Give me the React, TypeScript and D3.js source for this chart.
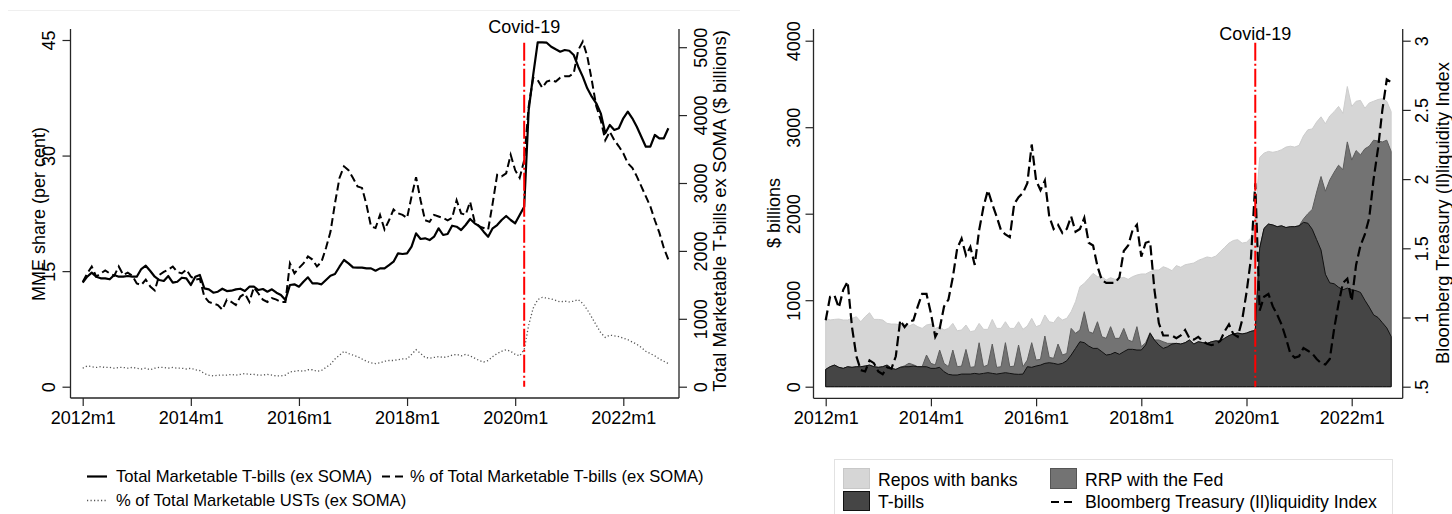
import React, { useEffect, useRef } from 'react';
import * as d3 from 'd3';

// month index: 0 = 2012m1
const xTickMonths = [0, 24, 48, 72, 96, 120];
const xTickLabels = ['2012m1', '2014m1', '2016m1', '2018m1', '2020m1', '2022m1'];
const covidMonth = 98; // 2020m3

// ---- left panel: 2012m1 - 2022m11 ----
// Total Marketable T-bills (ex SOMA), $ billions (right axis)
const tbillsTotal = [
  1532, 1620, 1679, 1620, 1596, 1596, 1582, 1645, 1620, 1620, 1630, 1620,
  1620, 1733, 1782, 1704, 1620, 1571, 1557, 1630, 1532, 1546, 1605, 1596,
  1498, 1620, 1645, 1449, 1434, 1384, 1399, 1443, 1409, 1414, 1434, 1443,
  1409, 1473, 1473, 1424, 1439, 1399, 1434, 1384, 1350, 1277, 1498, 1508,
  1473, 1546, 1611, 1523, 1523, 1508, 1571, 1635, 1660, 1767, 1866, 1817,
  1758, 1753, 1753, 1743, 1743, 1708, 1743, 1743, 1792, 1841, 1964, 1954,
  1964, 2062, 2259, 2175, 2185, 2160, 2209, 2333, 2234, 2249, 2371, 2356,
  2308, 2381, 2470, 2406, 2367, 2283, 2209, 2333, 2381, 2455, 2514, 2455,
  2406, 2529, 2651, 4075, 4591, 5072, 5072, 5066, 5007, 4969, 4934, 4959,
  4948, 4885, 4713, 4566, 4395, 4271, 4174, 4026, 3732, 3854, 3781, 3806,
  3953, 4050, 3953, 3829, 3682, 3535, 3535, 3707, 3658, 3658, 3806,
];
// % of Total Marketable T-bills (ex SOMA) (left axis)
const shareBills = [
  13.6, 14.7, 15.6, 14.3, 14.7, 15.1, 14.7, 14.4, 15.6, 14.5, 14.8, 14.4,
  13.4, 13.2, 13.9, 13.0, 12.5, 14.5, 14.9, 15.2, 15.6, 14.9, 14.7, 15.2,
  14.3, 13.9, 14.0, 11.7, 11.0, 10.8, 10.6, 10.0, 11.3, 11.0, 10.6, 11.7,
  12.1, 11.0, 12.9, 12.1, 11.3, 11.0, 11.5, 11.3, 11.0, 11.0, 16.0, 14.7,
  15.4, 16.0, 16.9, 16.5, 15.6, 16.2, 18.0, 20.1, 23.8, 27.1, 28.6, 28.1,
  27.1, 26.0, 25.8, 23.6, 20.8, 20.6, 22.3, 20.4, 21.6, 23.0, 22.5, 22.3,
  21.9, 24.7, 27.2, 24.2, 21.6, 21.4, 22.3, 22.1, 21.9, 21.6, 21.9, 24.2,
  22.5, 22.3, 24.0, 21.4, 20.8, 20.6, 20.4, 23.8, 27.5, 27.3, 27.7, 30.1,
  28.1, 27.1, 29.4, 36.4, 40.1, 39.8, 38.8, 39.6, 39.8, 39.6, 40.1, 40.3,
  40.3, 40.7, 43.7, 44.8, 42.9, 39.8, 36.4, 34.6, 32.0, 33.1, 32.0, 31.2,
  30.3, 29.0, 28.4, 27.3, 26.0, 24.7, 23.4, 21.6, 20.0, 18.0, 16.5,
];
// % of Total Marketable USTs (ex SOMA) (left axis)
const shareUsts = [
  2.4, 2.7, 2.6, 2.5, 2.6, 2.5, 2.5, 2.4, 2.5, 2.5, 2.4, 2.5,
  2.4, 2.3, 2.4, 2.2, 2.4, 2.5, 2.5, 2.4, 2.5, 2.4, 2.4, 2.3,
  2.4, 2.2, 2.1, 1.7, 1.5, 1.4, 1.5, 1.5, 1.5, 1.6, 1.5, 1.6,
  1.7, 1.6, 1.6, 1.5, 1.5, 1.6, 1.5, 1.4, 1.4, 1.5, 1.9, 2.0,
  2.1, 2.0, 2.2, 2.2, 2.0, 2.1, 2.5, 2.9, 3.6, 4.1, 4.6, 4.3,
  4.1, 3.9, 3.6, 3.3, 3.1, 3.0, 3.1, 3.3, 3.4, 3.4, 3.5, 3.6,
  3.6, 4.2, 4.8, 4.3, 3.8, 3.7, 3.8, 3.9, 3.8, 3.9, 4.1, 4.2,
  4.0, 4.2, 4.0, 3.7, 3.4, 3.2, 3.4, 3.9, 4.3, 4.6, 4.8, 4.6,
  4.2, 4.0, 4.8, 8.0, 10.2, 11.3, 11.6, 11.5, 11.4, 11.2, 11.0, 11.1,
  11.0, 11.1, 11.3, 10.8, 10.0, 9.0, 8.0, 7.0, 6.4, 6.7, 6.6, 6.5,
  6.3, 6.1, 5.8, 5.5, 5.1, 4.6, 4.3, 4.0, 3.6, 3.3, 3.0,
];
const pctTicks = [0, 15, 30, 45];
const bnTicks = [0, 1000, 2000, 3000, 4000, 5000];

// ---- right panel: 2012m1 - 2022m10, $ billions ----
const tbillsHeld = [
  200, 231, 250, 224, 212, 231, 224, 231, 231, 239, 250, 231,
  224, 231, 250, 212, 200, 224, 231, 231, 239, 231, 231, 231,
  212, 212, 224, 173, 143, 135, 135, 146, 146, 146, 154, 146,
  154, 162, 154, 146, 154, 162, 154, 146, 143, 146, 231, 224,
  239, 250, 270, 277, 270, 258, 270, 300, 366, 443, 520, 509,
  470, 443, 443, 405, 366, 374, 397, 374, 405, 432, 432, 424,
  424, 482, 617, 540, 482, 443, 462, 493, 501, 493, 509, 540,
  493, 520, 510, 500, 520, 530, 525, 560, 590, 610, 620, 610,
  620, 640, 650, 1600, 1830, 1880, 1870, 1850, 1860, 1840, 1850, 1850,
  1860, 1900, 1890, 1820, 1700, 1580, 1300, 1200, 1190, 1150, 1120, 1140,
  1120, 1110, 1090, 1000, 920, 830, 800, 740, 680, 580,
];
const rrpFed = [
  0, 0, 0, 0, 0, 0, 0, 0, 0, 0, 0, 0,
  0, 0, 0, 0, 0, 0, 10, 40, 15, 0, 0, 135,
  58, 39, 200, 96, 89, 289, 96, 92, 285, 77, 77, 362,
  77, 89, 339, 77, 77, 347, 77, 92, 339, 85, 77, 285,
  69, 66, 316, 62, 58, 235, 96, 85, 308, 174, 135, 358,
  166, 174, 308, 173, 193, 320, 162, 185, 269, 108, 88, 270,
  38, 27, 8, 0, 58, 77, 39, 8, 0, 0, 0, 0,
  0, 0, 0, 0, 0, 0, 0, 0, 0, 0, 0, 0,
  0, 0, 0, 0, 0, 0, 0, 0, 0, 0, 0, 0,
  0, 40, 110, 230, 550, 850, 960, 1190, 1290, 1410, 1390, 1690,
  1500, 1620, 1590, 1750, 1860, 2020, 2040, 2090, 2170, 2140,
];
const reposBanks = [
  590, 540, 528, 558, 559, 540, 566, 578, 520, 570, 605, 547,
  554, 540, 482, 512, 524, 489, 483, 430, 470, 463, 443, 347,
  454, 423, 270, 386, 442, 308, 416, 417, 282, 413, 416, 224,
  432, 412, 285, 451, 443, 242, 443, 436, 269, 432, 393, 281,
  386, 397, 243, 412, 412, 316, 405, 405, 193, 366, 501, 328,
  616, 693, 521, 694, 674, 566, 682, 693, 590, 701, 752, 597,
  841, 794, 704, 809, 809, 867, 867, 840, 899, 887, 901, 880,
  937, 940, 970, 1000, 970, 980, 1035, 1050, 1070, 1080, 1080, 1050,
  1050, 1080, 1310, 1050, 870, 840, 840, 870, 880, 930, 930, 920,
  930, 960, 970, 930, 810, 690, 780, 740, 700, 680, 650, 640,
  620, 570, 630, 470, 500, 450, 480, 500, 450, 460,
];
// Bloomberg Treasury (Il)liquidity Index (right axis)
const bbgIndex = [
  0.98, 1.15, 1.16, 1.07, 1.2, 1.26, 0.93, 0.72, 0.62, 0.61, 0.69, 0.67,
  0.61, 0.59, 0.64, 0.63, 0.72, 0.98, 0.93, 0.97, 0.98, 1.08, 1.17, 1.17,
  1.03, 0.86, 0.92, 1.08, 1.13, 1.29, 1.5, 1.57, 1.45, 1.51, 1.38, 1.63,
  1.8, 1.92, 1.82, 1.73, 1.63, 1.6, 1.58, 1.82, 1.87, 1.9, 1.97, 2.25,
  1.99, 1.92, 1.99, 1.73, 1.64, 1.67, 1.61, 1.64, 1.73, 1.62, 1.64, 1.72,
  1.54, 1.52, 1.37, 1.27, 1.25, 1.25, 1.25, 1.29, 1.48, 1.52, 1.63, 1.67,
  1.44, 1.54, 1.55, 1.2, 0.96, 0.87, 0.87, 0.87, 0.85, 0.87, 0.91, 0.85,
  0.84, 0.86, 0.83, 0.81, 0.8, 0.81, 0.83, 0.9, 0.95, 0.88, 0.86, 0.98,
  1.18, 1.42, 1.97, 1.05, 1.15, 1.17, 1.08, 1.02, 0.95, 0.85, 0.74, 0.71,
  0.72, 0.78, 0.76, 0.74, 0.7, 0.67, 0.66, 0.7, 0.92, 1.1, 1.25, 1.28,
  1.12, 1.38, 1.52, 1.6, 1.72, 2.0, 2.22, 2.5, 2.72, 2.7,
];
const stackTicks = [0, 1000, 2000, 3000, 4000];
const bbgTicks = [0.5, 1, 1.5, 2, 2.5, 3];
const bbgTickLabels = ['.5', '1', '1.5', '2', '2.5', '3'];

const FONT = "'Liberation Sans', Arial, Helvetica, sans-serif";
const AXIS = '#262626';
const LIGHT = '#d6d6d6';
const MID = '#737373';
const DARK = '#454545';
const COVID_DASH = '18 3 2 3';

// vertical tick labels, reading bottom to top
const styleYAxis = (g, labelX) => {
  g.select('.domain').remove();
  g.selectAll('.tick line').attr('stroke', AXIS).attr('stroke-width', 1.2);
  g.selectAll('.tick text')
    .attr('x', null).attr('dy', null)
    .attr('text-anchor', 'middle')
    .attr('fill', '#000')
    .attr('font-size', 18)
    .attr('transform', `translate(${labelX},0) rotate(-90)`);
};

const drawFrame = (g, x0, x1, y0, y1) => {
  [[x0, y0, x0, y1], [x1, y0, x1, y1], [x0, y1, x1, y1]].forEach(([a, b, c, d]) => {
    g.append('line').attr('x1', a).attr('y1', b).attr('x2', c).attr('y2', d)
      .attr('stroke', AXIS).attr('stroke-width', 1.3);
  });
};

const drawXAxis = (g, x, axisY) => {
  const ax = g.append('g').attr('transform', `translate(0,${axisY})`)
    .call(d3.axisBottom(x).tickValues(xTickMonths).tickFormat((d, i) => xTickLabels[i]).tickSize(8).tickSizeOuter(0));
  ax.select('.domain').remove();
  ax.selectAll('.tick line').attr('stroke', AXIS).attr('stroke-width', 1.2);
  ax.selectAll('.tick text').attr('y', 25.5).attr('dy', null).attr('fill', '#000').attr('font-size', 18);
};

const vText = (g, x, y, txt, size = 18) =>
  g.append('text').attr('transform', `translate(${x},${y}) rotate(-90)`)
    .attr('text-anchor', 'middle').attr('font-size', size).text(txt);

const App = () => {
  const ref = useRef(null);

  useEffect(() => {
    const svg = d3.select(ref.current);
    svg.selectAll('*').remove();
    svg.attr('font-family', FONT);

    // ===================== left panel =====================
    const left = svg.append('g');
    left.append('line').attr('x1', 8).attr('x2', 740).attr('y1', 10.5).attr('y2', 10.5)
      .attr('stroke', '#efefef');

    const xL = d3.scaleLinear().domain([0, 120]).range([82.7, 623.3]);
    const yPct = d3.scaleLinear().domain([0, 45]).range([386.7, 40]);
    const yBn = d3.scaleLinear().domain([0, 5000]).range([386.7, 47.2]);

    drawFrame(left, 70.5, 679, 29, 398);
    drawXAxis(left, xL, 398);

    const lAx = left.append('g').attr('transform', 'translate(70.5,0)')
      .call(d3.axisLeft(yPct).tickValues(pctTicks).tickSize(8).tickSizeOuter(0));
    styleYAxis(lAx, -16);
    const rAx = left.append('g').attr('transform', 'translate(679,0)')
      .call(d3.axisRight(yBn).tickValues(bnTicks).tickFormat(d3.format('d')).tickSize(8).tickSizeOuter(0));
    styleYAxis(rAx, 27.5);

    vText(left, 45, 214, 'MME share (per cent)');
    vText(left, 726, 211, 'Total Marketable T-bills ex SOMA ($ billions)', 18.5);

    const linePct = d3.line().x((d, i) => xL(i)).y(d => yPct(d));
    left.append('path').attr('d', linePct(shareUsts)).attr('fill', 'none')
      .attr('stroke', '#555').attr('stroke-width', 1.3).attr('stroke-dasharray', '1.2 2.3');
    left.append('path').attr('d', linePct(shareBills)).attr('fill', 'none')
      .attr('stroke', '#000').attr('stroke-width', 2).attr('stroke-dasharray', '8 4');
    const lineBn = d3.line().x((d, i) => xL(i)).y(d => yBn(d));
    left.append('path').attr('d', lineBn(tbillsTotal)).attr('fill', 'none')
      .attr('stroke', '#000').attr('stroke-width', 2.2).attr('stroke-linejoin', 'round');

    left.append('line').attr('x1', xL(covidMonth)).attr('x2', xL(covidMonth))
      .attr('y1', 42.7).attr('y2', 386.7)
      .attr('stroke', '#ff0000').attr('stroke-width', 2).attr('stroke-dasharray', COVID_DASH);
    left.append('text').attr('x', xL(covidMonth)).attr('y', 32.5).attr('text-anchor', 'middle')
      .attr('font-size', 18).text('Covid-19');

    // legend
    const lg = left.append('g').attr('font-size', 16.6);
    lg.append('line').attr('x1', 87).attr('x2', 107).attr('y1', 476.5).attr('y2', 476.5)
      .attr('stroke', '#000').attr('stroke-width', 2.2);
    lg.append('text').attr('x', 116).attr('y', 482).text('Total Marketable T-bills (ex SOMA)');
    lg.append('line').attr('x1', 382).attr('x2', 404).attr('y1', 476.5).attr('y2', 476.5)
      .attr('stroke', '#000').attr('stroke-width', 2).attr('stroke-dasharray', '8 5');
    lg.append('text').attr('x', 410).attr('y', 482).text('% of Total Marketable T-bills (ex SOMA)');
    lg.append('line').attr('x1', 87).attr('x2', 107).attr('y1', 500.5).attr('y2', 500.5)
      .attr('stroke', '#555').attr('stroke-width', 1.3).attr('stroke-dasharray', '1.2 2.3');
    lg.append('text').attr('x', 116).attr('y', 506).text('% of Total Marketable USTs (ex SOMA)');

    // ===================== right panel =====================
    const right = svg.append('g');
    const xR = d3.scaleLinear().domain([0, 120]).range([825.7, 1351.7]);
    const yStack = d3.scaleLinear().domain([0, 4000]).range([386.7, 40.7]);
    const yBbg = d3.scaleLinear().domain([0.5, 3]).range([386.7, 40.7]);

    const rows = tbillsHeld.map((t, i) => ({ tbills: t, rrp: rrpFed[i], repo: reposBanks[i] }));
    const series = d3.stack().keys(['tbills', 'rrp', 'repo'])(rows);
    const area = d3.area().x((d, i) => xR(i)).y0(yStack(0)).y1(d => yStack(d[1]));
    const styles = {
      repo: { fill: LIGHT, stroke: '#cdcdcd' },
      rrp: { fill: MID, stroke: '#5c5c5c' },
      tbills: { fill: DARK, stroke: '#111' },
    };
    [...series].reverse().forEach(s => {
      right.append('path').attr('d', area(s)).attr('fill', styles[s.key].fill)
        .attr('stroke', styles[s.key].stroke).attr('stroke-width', 1).attr('stroke-linejoin', 'round');
    });

    const lineBbg = d3.line().x((d, i) => xR(i)).y(d => yBbg(d));
    right.append('path').attr('d', lineBbg(bbgIndex)).attr('fill', 'none')
      .attr('stroke', '#000').attr('stroke-width', 2.2).attr('stroke-dasharray', '10 4.5');

    right.append('line').attr('x1', xR(covidMonth)).attr('x2', xR(covidMonth))
      .attr('y1', 42.7).attr('y2', 386.7)
      .attr('stroke', '#ff0000').attr('stroke-width', 2).attr('stroke-dasharray', COVID_DASH);
    right.append('text').attr('x', xR(covidMonth)).attr('y', 40).attr('text-anchor', 'middle')
      .attr('font-size', 18).text('Covid-19');

    drawFrame(right, 813.5, 1402.7, 29, 398.3);
    drawXAxis(right, xR, 398.3);
    const slAx = right.append('g').attr('transform', 'translate(813.5,0)')
      .call(d3.axisLeft(yStack).tickValues(stackTicks).tickFormat(d3.format('d')).tickSize(8).tickSizeOuter(0));
    styleYAxis(slAx, -13.5);
    const srAx = right.append('g').attr('transform', 'translate(1402.7,0)')
      .call(d3.axisRight(yBbg).tickValues(bbgTicks).tickFormat((d, i) => bbgTickLabels[i]).tickSize(8).tickSizeOuter(0));
    styleYAxis(srAx, 25.5);

    vText(right, 779.5, 213, '$ billions');
    vText(right, 1449, 213, 'Bloomberg Treasury (Il)liquidity Index', 18.3);

    // legend
    const rg = right.append('g').attr('font-size', 17.7);
    rg.append('rect').attr('x', 834.5).attr('y', 459.5).attr('width', 558).attr('height', 70)
      .attr('fill', '#fff').attr('stroke', '#e2e2e2');
    rg.append('rect').attr('x', 843.5).attr('y', 468.5).attr('width', 26).attr('height', 20)
      .attr('fill', LIGHT).attr('stroke', '#c8c8c8');
    rg.append('text').attr('x', 878).attr('y', 485.5).text('Repos with banks');
    rg.append('rect').attr('x', 1050.5).attr('y', 468.5).attr('width', 26).attr('height', 20)
      .attr('fill', MID).attr('stroke', '#555');
    rg.append('text').attr('x', 1085).attr('y', 485.5).text('RRP with the Fed');
    rg.append('rect').attr('x', 843.5).attr('y', 491.5).attr('width', 26).attr('height', 19)
      .attr('fill', DARK).attr('stroke', '#111');
    rg.append('text').attr('x', 878).attr('y', 508).text('T-bills');
    rg.append('line').attr('x1', 1051).attr('x2', 1076).attr('y1', 502).attr('y2', 502)
      .attr('stroke', '#000').attr('stroke-width', 2.2).attr('stroke-dasharray', '8 5');
    rg.append('text').attr('x', 1085).attr('y', 508).text('Bloomberg Treasury (Il)liquidity Index');
  }, []);

  return (
    <svg ref={ref} width={1452} height={514}
      style={{ position: 'absolute', left: 0, top: 0, background: '#fff' }} />
  );
};

export default App;
